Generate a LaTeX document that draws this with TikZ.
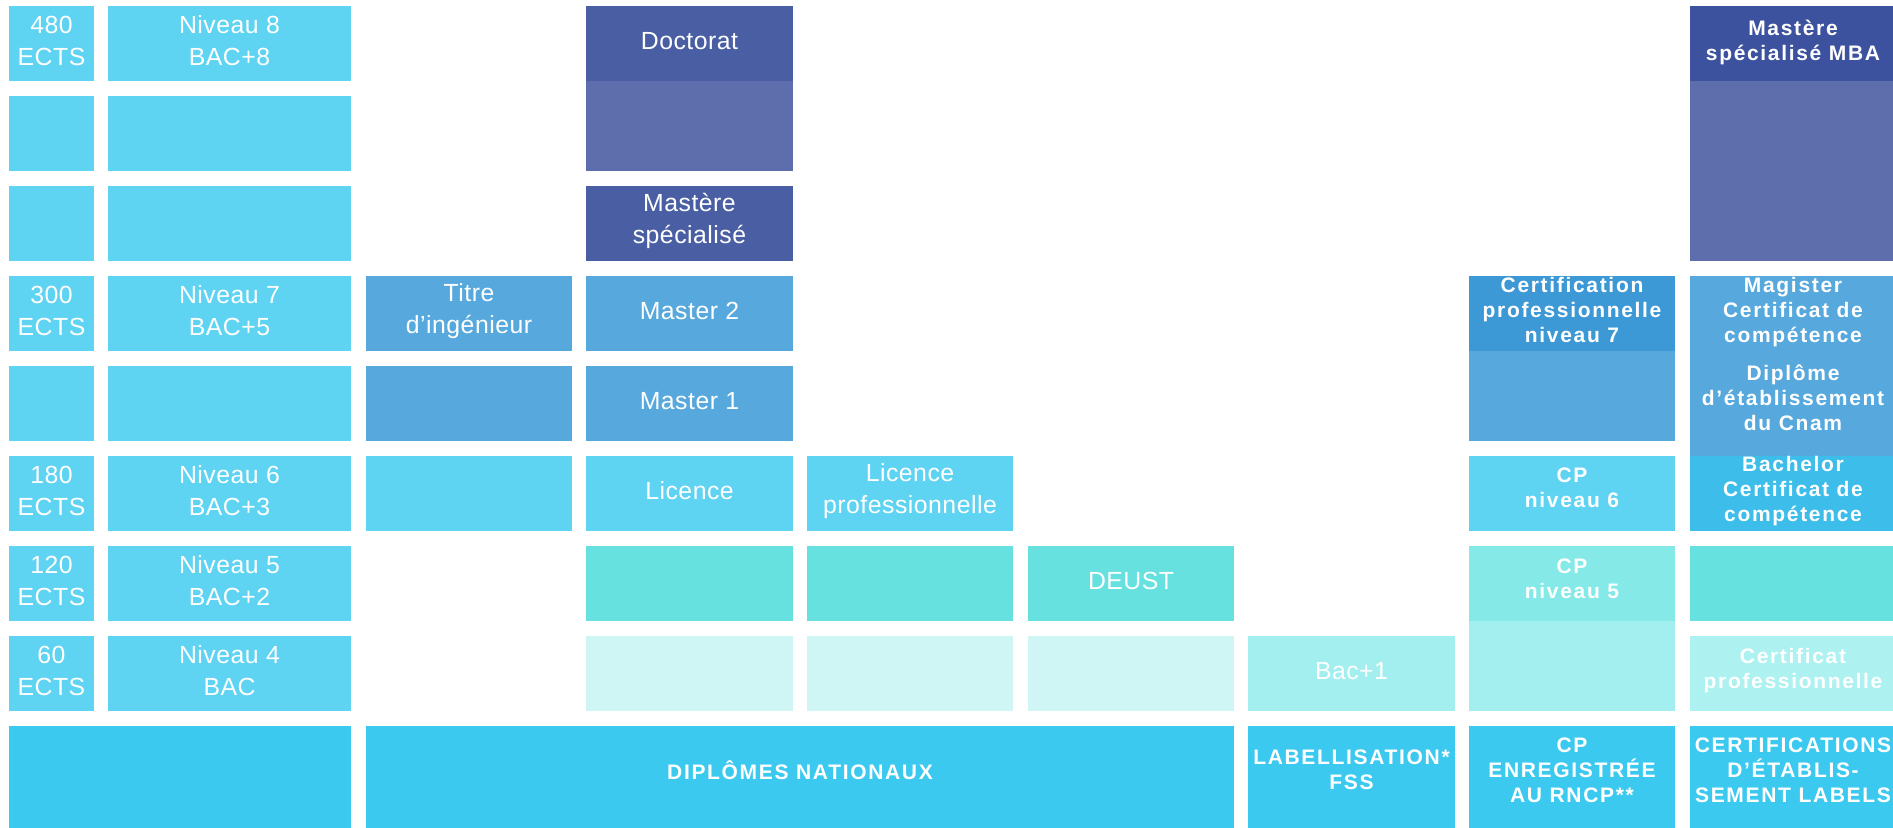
\documentclass[tikz,border=0pt]{standalone}
\usepackage{fontspec}
\setmainfont{Liberation Sans}
\newfontfamily\regff[LetterSpace=2]{Liberation Sans}
\newfontfamily\bldff[LetterSpace=8]{Liberation Sans}
\definecolor{cLB}{HTML}{5ED3F2}
\definecolor{cBot}{HTML}{3CC9F0}
\definecolor{cMed}{HTML}{57A8DC}
\definecolor{cDk}{HTML}{3D98D6}
\definecolor{cBach}{HTML}{3DBDEA}
\definecolor{cInd}{HTML}{4A5FA3}
\definecolor{cIndD}{HTML}{3D529E}
\definecolor{cIndL}{HTML}{5E6DAB}
\definecolor{cTq}{HTML}{66E1E0}
\definecolor{cTqL}{HTML}{85E9E8}
\definecolor{cPale}{HTML}{A3EEEE}
\definecolor{cPaleB}{HTML}{ADF1F1}
\definecolor{cVP}{HTML}{CFF5F5}
% fill-only cell
\newcommand\cell[6]{\node[cellbox, fill=#6, minimum width={(#4-#2)*0.5pt}, minimum height={(#5-#3)*0.5pt}] (#1) at ({(#2+#4)/2},{(#3+#5)/2}) {};}
% cell with regular text
\newcommand\cellt[7]{\cell{#1}{#2}{#3}{#4}{#5}{#6}\node[reg] (#1t) at (#1) {#7};}
\tikzset{
  cellbox/.style={inner sep=0pt, outer sep=0pt, draw=none},
  reg/.style={inner sep=0pt, align=center, text=white, yshift=1.4pt, font=\regff\fontsize{12.4}{16}\selectfont},
  lbl/.style={inner sep=0pt, align=center, text=white, font=\bldff\bfseries\fontsize{10.5}{12.5}\selectfont},
}
\begin{document}
\begin{tikzpicture}[x=0.5pt, y=-0.5pt]
\useasboundingbox (0,0) rectangle (1893,827);
\clip (0,0) rectangle (1893,827);
% column A : ECTS
\cellt{a1}{9}{6}{94}{81}{cLB}{480\\ECTS}
\cell{a2}{9}{96}{94}{171}{cLB}
\cell{a3}{9}{186}{94}{261}{cLB}
\cellt{a4}{9}{276}{94}{351}{cLB}{300\\ECTS}
\cell{a5}{9}{366}{94}{441}{cLB}
\cellt{a6}{9}{456}{94}{531}{cLB}{180\\ECTS}
\cellt{a7}{9}{546}{94}{621}{cLB}{120\\ECTS}
\cellt{a8}{9}{636}{94}{711}{cLB}{60\\ECTS}
% column B : Niveau
\cellt{b1}{108}{6}{351}{81}{cLB}{Niveau 8\\BAC+8}
\cell{b2}{108}{96}{351}{171}{cLB}
\cell{b3}{108}{186}{351}{261}{cLB}
\cellt{b4}{108}{276}{351}{351}{cLB}{Niveau 7\\BAC+5}
\cell{b5}{108}{366}{351}{441}{cLB}
\cellt{b6}{108}{456}{351}{531}{cLB}{Niveau 6\\BAC+3}
\cellt{b7}{108}{546}{351}{621}{cLB}{Niveau 5\\BAC+2}
\cellt{b8}{108}{636}{351}{711}{cLB}{Niveau 4\\BAC}
\cell{abot}{9}{726}{351}{840}{cBot}
% column C
\cellt{c4}{366}{276}{572}{351}{cMed}{Titre\\d’ingénieur}
\cell{c5}{366}{366}{572}{441}{cMed}
\cell{c6}{366}{456}{572}{531}{cLB}
% column D
\cell{d12}{586}{6}{793}{171}{cIndL}
\cellt{d1}{586}{6}{793}{81}{cInd}{Doctorat}
\cellt{d3}{586}{186}{793}{261}{cInd}{Mastère\\spécialisé}
\cellt{d4}{586}{276}{793}{351}{cMed}{Master 2}
\cellt{d5}{586}{366}{793}{441}{cMed}{Master 1}
\cellt{d6}{586}{456}{793}{531}{cLB}{Licence}
\cell{d7}{586}{546}{793}{621}{cTq}
\cell{d8}{586}{636}{793}{711}{cVP}
% column E
\cellt{e6}{807}{456}{1013}{531}{cLB}{Licence\\professionnelle}
\cell{e7}{807}{546}{1013}{621}{cTq}
\cell{e8}{807}{636}{1013}{711}{cVP}
% column F
\cellt{f7}{1028}{546}{1234}{621}{cTq}{DEUST}
\cell{f8}{1028}{636}{1234}{711}{cVP}
% column G
\cellt{g8}{1248}{636}{1455}{711}{cPale}{Bac+1}
% bottom row C-F and G
\cell{cbot}{366}{726}{1234}{840}{cBot}
\node[lbl] (cbotl) at (800,770) {DIPLÔMES NATIONAUX};
\cell{gbot}{1248}{726}{1455}{840}{cBot}
\node[lbl] (gbotl) at (1351.5,770) {LABELLISATION*\\FSS};
% column H
\cell{h45}{1469}{276}{1675}{441}{cMed}
\cell{h4}{1469}{276}{1675}{351}{cDk}
\node[lbl] (h4l) at (1572,310) {Certification\\professionnelle\\niveau 7};
\cell{h6}{1469}{456}{1675}{531}{cLB}
\node[lbl] (h6l) at (1572,488) {CP\\niveau 6};
\cell{h78}{1469}{546}{1675}{711}{cPale}
\cell{h7}{1469}{546}{1675}{621}{cTqL}
\node[lbl] (h7l) at (1572,579) {CP\\niveau 5};
\cell{hbot}{1469}{726}{1675}{840}{cBot}
\node[lbl] (hbotl) at (1572,770) {CP\\ENREGISTRÉE\\AU RNCP**};
% column I
\cell{i13}{1690}{6}{1896}{261}{cIndL}
\cell{i1}{1690}{6}{1896}{81}{cIndD}
\node[lbl] (i1l) at (1793,42) {Mastère\\spécialisé MBA};
\cell{i45}{1690}{276}{1896}{456}{cMed}
\node[lbl] (i4l) at (1793,312) {Magister\\Certificat de\\compétence};
\node[lbl] (i5l) at (1793,398) {Diplôme\\d’établissement\\du Cnam};
\cell{i6}{1690}{456}{1896}{531}{cBach}
\node[lbl] (i6l) at (1793,491) {Bachelor\\Certificat de\\compétence};
\cell{i7}{1690}{546}{1896}{621}{cTq}
\cell{i8}{1690}{636}{1896}{711}{cPaleB}
\node[lbl] (i8l) at (1793,671) {Certificat\\professionnelle};
\cell{ibot}{1690}{726}{1896}{840}{cBot}
\node[lbl] (ibotl) at (1793,770) {CERTIFICATIONS\\D’ÉTABLIS-\\SEMENT LABELS};
\end{tikzpicture}
\end{document}
